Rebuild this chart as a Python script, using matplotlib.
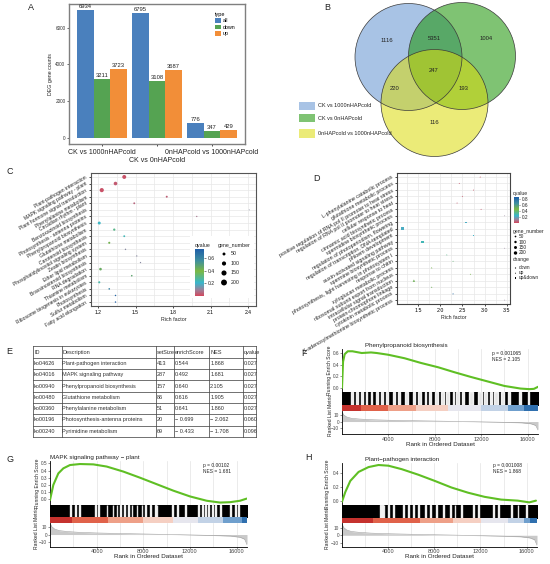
import numpy as np
import matplotlib
matplotlib.use('Agg')
import matplotlib.pyplot as plt
from matplotlib.colors import LinearSegmentedColormap
from matplotlib.patches import Circle, Rectangle
from matplotlib.lines import Line2D

plt.rcParams['font.family'] = ['Liberation Sans', 'DejaVu Sans']

# ---------------- data ----------------
# A
deg_groups = ["CK vs 1000nHAPcold", "CK vs 0nHAPcold", "0nHAPcold vs 1000nHAPcold"]
deg_types = ["all", "down", "up"]
deg_all = [6934, 6795, 776]
deg_down = [3211, 3108, 347]
deg_up = [3723, 3687, 429]
type_colors = ['#4a80bd', '#55a352', '#f28e38']

# B
venn_sets = ["CK vs 1000nHAPcold", "CK vs 0nHAPcold", "0nHAPcold vs 1000nHAPcold"]
venn_counts = [1116, 5351, 1004, 247, 220, 193, 116]
venn_colors = ['#6192d1', '#169200', '#dcdc0a']

# C
c_terms = ["Plant-pathogen interaction", "MAPK signaling pathway - plant",
           "Plant hormone signal transduction", "Phenylalanine metabolism",
           "Circadian rhythm - plant", "Benzoxazinoid biosynthesis",
           "Photosynthesis - antenna proteins", "Phenylpropanoid biosynthesis",
           "Glutathione metabolism", "Carotenoid biosynthesis",
           "Phosphatidylinositol signaling system", "Zeatin biosynthesis",
           "Ether lipid metabolism", "Brassinosteroid biosynthesis",
           "RNA degradation", "Thiamine metabolism",
           "Ribosome biogenesis in eukaryotes", "Photosynthesis",
           "Sulfur metabolism", "Fatty acid elongation"]
c_rich = [1.41, 1.34, 1.23, 1.75, 1.49, 2.41, 1.99, 1.21, 1.33, 1.41,
          1.29, 1.42, 1.51, 1.54, 1.22, 1.47, 1.21, 1.29, 1.34, 1.34]
c_q = [0.02, 0.03, 0.02, 0.04, 0.05, 0.12, 0.08, 0.22, 0.30, 0.24,
       0.42, 0.12, 0.12, 0.12, 0.45, 0.48, 0.26, 0.62, 0.72, 0.74]
c_genes = [90, 75, 100, 22, 20, 5, 10, 50, 30, 20,
           25, 12, 10, 10, 40, 15, 25, 15, 12, 12]

# D
d_terms = ["L-phenylalanine catabolic process", "glutathione metabolic process",
           "positive regulation of RNA pol II promoter to heat stress",
           "regulation of RNA pol II promoter to heat stress",
           "cellular response to heat", "cinnamic acid biosynthetic process",
           "spermidine biosynthetic process", "regulation of photoperiodism, flowering",
           "regulation of transcription, DNA-templated", "phloem development",
           "auxin-activated signaling pathway", "spermine biosynthetic process",
           "photosynthesis, light harvesting in photosystem I", "response to chitin",
           "xyloglucan metabolic process", "ribosomal subunit export from nucleus",
           "intracellular signal transduction", "protein-chromophore linkage",
           "cytokinin metabolic process", "S-adenosylmethionine biosynthetic process"]
d_rich = [2.90, 2.43, 2.75, 2.50, 2.38, 2.92, 3.45, 2.58, 1.16, 2.75,
          1.60, 3.45, 2.15, 2.29, 1.81, 2.68, 1.41, 1.81, 2.29, 3.45]
d_q = [0.02, 0.03, 0.02, 0.03, 0.03, 0.03, 0.12, 0.22, 0.22, 0.24,
       0.28, 0.12, 0.35, 0.38, 0.48, 0.45, 0.50, 0.50, 0.80, 0.12]
d_genes = [25, 25, 25, 25, 25, 25, 12, 25, 200, 25,
           100, 12, 25, 25, 30, 25, 100, 30, 30, 12]
d_change = ["up", "up", "up", "up", "up", "up", "down", "up&down", "up&down", "up&down",
            "up&down", "down", "up", "up", "up", "up", "up", "up", "up", "down"]
change_levels = ["down", "up", "up&down"]
change_markers = {"down": "o", "up": "^", "up&down": "s"}

# E
tbl_cols = ["ID", "Description", "setSize", "enrichScore", "NES", "qvalue"]
tbl_id = ["ko04626", "ko04016", "ko00940", "ko00480", "ko00360", "ko00196", "ko00240"]
tbl_desc = ["Plant-pathogen interaction", "MAPK signaling pathway",
            "Phenylpropanoid biosynthesis", "Glutathione metabolism",
            "Phenylalanine metabolism", "Photosynthesis-antenna proteins",
            "Pyrimidine metabolism"]
tbl_size = ["413", "287", "157", "86", "51", "20", "69"]
tbl_es = ["0.544", "0.492", "0.640", "0.616", "0.641", "\u2212 0.699", "\u2212 0.433"]
tbl_nes = ["1.868", "1.681", "2.105", "1.905", "1.860", "\u2212 2.062", "\u2212 1.708"]
tbl_q = ["0.027", "0.027", "0.027", "0.027", "0.027", "0.060", "0.096"]

# GSEA (F, G, H)
N_GENES = 16900
metric_rank = [0, 150, 400, 800, 1500, 2500, 4000, 6000, 8000, 10000, 12000,
               14000, 15500, 16300, 16700, 16900]
metric_val = [15, 10, 7, 5, 3.8, 2.8, 2.0, 1.3, 0.7, 0.1, -0.5, -1.2, -2.0,
              -3.5, -6, -13]
band_colors = ['#c5322e', '#e0624a', '#eea088', '#f5cfc2', '#e6e6ee',
               '#c2d2e6', '#6f9fcd', '#2f6fae']

f_title = "Phenylpropanoid biosynthesis"
f_p, f_nes = "0.001065", "2.105"
f_es_rank = [0, 90, 230, 500, 900, 1700, 2500, 3000, 4000, 5400, 6800, 8300,
             9700, 11100, 12600, 14000, 15400, 16150, 16550, 16900]
f_es_val = [0.0, 0.45, 0.58, 0.63, 0.63, 0.60, 0.61, 0.60, 0.57, 0.51, 0.43,
            0.355, 0.27, 0.19, 0.11, 0.035, -0.01, -0.02, -0.015, 0.02]
f_gaps = [(800, 150), (1230, 150), (1660, 150), (2100, 80), (2470, 140),
          (2960, 140), (3390, 140), (3820, 140), (4390, 200), (4820, 150),
          (5400, 280), (6110, 200), (6540, 230), (7120, 140), (7460, 230),
          (7980, 290), (8500, 280), (9010, 200), (9560, 140), (9870, 200),
          (10330, 170), (10910, 370), (11710, 340), (12280, 230), (12800, 140),
          (13140, 290), (13720, 280), (14350, 170), (15300, 140), (16010, 150)]
f_band = [0, 1660, 3960, 6400, 9130, 12000, 14290, 15700, 16900]

g_title = "MAPK signaling pathway \u2212 plant"
g_p, g_nes = "0.00102", "1.681"
g_es_rank = [0, 286, 715, 1144, 1716, 2574, 3718, 4862, 6292, 7722, 9152,
             10582, 12012, 13442, 14586, 15444, 16302, 16874]
g_es_val = [-0.01, 0.20, 0.36, 0.43, 0.476, 0.49, 0.485, 0.455, 0.385, 0.30,
            0.21, 0.12, 0.04, -0.02, -0.045, -0.04, -0.02, 0.01]
g_gap_starts = [1716, 2145, 2517, 3861, 4147, 4862, 5377, 5720, 6006, 6378,
                6721, 7007, 7436, 7865, 8151, 8580, 9009, 9152, 10440, 10868,
                11583, 12727, 13013, 13299, 13585, 13871, 14157, 14586, 15444,
                15873, 16159]
g_band = [0, 1860, 5005, 8008, 10582, 12727, 14872, 16445, 16900]

h_title = "Plant\u2212pathogen interaction"
h_p, h_nes = "0.001008", "1.868"
h_es_rank = [0, 287, 718, 1437, 2299, 3161, 4023, 5172, 6609, 8045, 9482,
             10919, 12355, 13792, 15229, 16235, 16810]
h_es_val = [-0.01, 0.13, 0.29, 0.42, 0.49, 0.52, 0.51, 0.46, 0.38, 0.29,
            0.195, 0.12, 0.06, 0.02, 0.005, -0.02, 0.005]
h_gap_starts = [3305, 3450, 3600, 4019, 4450, 5312, 5743, 6174, 6605, 7180,
                7611, 8186, 8760, 9335, 9766, 10341, 11347, 11778, 13071,
                13502, 14651, 15226, 15944]
h_band = [0, 2723, 6749, 9622, 12064, 14364, 15800, 16300, 16900]

# ---------------- figure ----------------
W, H = 550, 564
fig = plt.figure(figsize=(W / 100, H / 100), dpi=100)


def px_axes(l, t, r, b, **kw):
    return fig.add_axes([l / W, 1 - b / H, (r - l) / W, (b - t) / H], **kw)


def ftext(x, y, s, **kw):
    return fig.text(x / W, 1 - y / H, s, **kw)


qcmap = LinearSegmentedColormap.from_list(
    'q', [(0.0, '#d3475d'), (0.12, '#a07d96'), (0.28, '#38b6cc'),
          (0.53, '#7bb843'), (0.75, '#3f8f9e'), (1.0, '#1f5ea8')])

TXT = '#222222'

# panel letters
for lab, x, y in [("A", 31, 7), ("B", 327, 7), ("C", 10, 171), ("D", 317, 179),
                  ("E", 9, 352), ("F", 304, 353), ("G", 10, 459), ("H", 309, 458)]:
    ftext(x, y, lab, fontsize=6.5, ha='center', va='center', color=TXT)

# ---------- A ----------
axA = px_axes(69, 4, 245, 144)
xg = np.arange(len(deg_groups)) + 1
bw = 0.3
for j, (vals, col, lab) in enumerate(zip([deg_all, deg_down, deg_up], type_colors, deg_types)):
    xs = xg + (j - 1) * bw
    axA.bar(xs, vals, width=bw, color=col, label=lab, edgecolor='none')
    for x, v in zip(xs, vals):
        axA.text(x, v + 50, str(v), ha='center', va='bottom', fontsize=4.2, color=TXT)
axA.set_xlim(0.4, 3.6)
axA.set_ylim(-347, 7281)
axA.set_yticks([0, 2000, 4000, 6000])
axA.tick_params(axis='y', labelsize=3.4, length=1.5, width=0.5, pad=1, colors='#333')
axA.set_xticks([1, 3])
axA.set_xticklabels([deg_groups[0], deg_groups[2]], fontsize=5, color=TXT)
axA.set_xticks([2], minor=True)
axA.set_xticklabels([deg_groups[1]], minor=True, fontsize=5, color=TXT)
axA.tick_params(axis='x', which='major', length=1.5, width=0.5, pad=2.2)
axA.tick_params(axis='x', which='minor', length=1.5, width=0.5, pad=8)
for s in axA.spines.values():
    s.set_color('#7f7f7f')
    s.set_linewidth(1.0)
axA.set_ylabel('DEG gene counts', fontsize=3.8, labelpad=2, color=TXT)
leg = axA.legend(title='type', loc='upper left', bbox_to_anchor=(0.82, 0.96),
                 frameon=False, fontsize=3.8, title_fontsize=4, handlelength=1.0,
                 handleheight=1.0, labelspacing=0.25, borderaxespad=0,
                 handletextpad=0.4, alignment='left')

# ---------- B ----------
axB = px_axes(275, 0, 550, 160)
axB.set_xlim(275, 550)
axB.set_ylim(160, 0)
axB.axis('off')
venn_centers = [(408.5, 57), (462, 56), (434.5, 103)]
venn_r = 53.5
for c, col in zip(venn_centers, venn_colors):
    axB.add_patch(Circle(c, venn_r, facecolor=col, alpha=0.55, edgecolor='none'))
for c in venn_centers:
    axB.add_patch(Circle(c, venn_r, fill=False, edgecolor='#3a3a3a', lw=0.5))
venn_label_pos = [(387, 40), (434, 39), (486, 39), (434, 70), (395, 89), (463, 89), (434, 122)]
for (x, y), v in zip(venn_label_pos, venn_counts):
    axB.text(x, y, str(v), ha='center', va='center', fontsize=4.2, color=TXT)
for i, (name, col) in enumerate(zip(venn_sets, venn_colors)):
    y0 = [101.7, 114.0, 129.3][i]
    axB.add_patch(Rectangle((299, y0), 16, 8.3, facecolor=col, alpha=0.55, edgecolor='none'))
    axB.text(318, y0 + 4.2, name, ha='left', va='center', fontsize=4, color=TXT)

# ---------- C ----------
axC = px_axes(91, 173, 256, 306)
nC = len(c_terms)
yC = np.arange(nC)
scC = axC.scatter(c_rich, yC, s=np.array(c_genes) * 0.09, c=c_q, cmap=qcmap,
                  vmin=0, vmax=0.75, edgecolors='none', zorder=3)
axC.set_ylim(nC - 0.4, -0.6)
axC.set_xlim(1.144, 2.464)
axC.set_yticks(yC)
axC.set_yticklabels(c_terms, rotation=30, ha='right', va='center',
                    rotation_mode='anchor', fontsize=4, color=TXT)
axC.set_xticks([1.2, 1.5, 1.8, 2.1, 2.4])
axC.set_xticks([1.35, 1.65, 1.95, 2.25], minor=True)
axC.tick_params(axis='both', which='major', labelsize=3.6, length=1.5, width=0.5, pad=1.5)
axC.tick_params(axis='x', which='minor', length=0)
axC.grid(True, which='both', color='#e8e8e8', lw=0.5)
axC.set_axisbelow(True)
for s in axC.spines.values():
    s.set_color('#555555')
    s.set_linewidth(0.8)
axC.set_xlabel('Rich factor', fontsize=3.8, labelpad=1, color=TXT)
# legend (inside)
axC.add_patch(Rectangle((0.6, 0.06), 0.39, 0.47, transform=axC.transAxes,
                        facecolor='white', edgecolor='none', zorder=4))
caxC = px_axes(195, 249, 204, 296)
cbC = fig.colorbar(scC, cax=caxC)
cbC.set_ticks([0.2, 0.4, 0.6])
cbC.outline.set_visible(False)
caxC.tick_params(labelsize=3.6, length=1.5, width=0.4, pad=1, colors=TXT)
ftext(195, 245, 'qvalue', fontsize=3.8, ha='left', va='center', color=TXT)
ftext(218, 245, 'gene_number', fontsize=3.8, ha='left', va='center', color=TXT)
axLC = px_axes(218, 249, 254, 288)
axLC.set_xlim(218, 254)
axLC.set_ylim(288, 249)
axLC.axis('off')
for gval, yy in zip([50, 100, 150, 200], [254, 263.5, 273, 282.5]):
    axLC.scatter([224], [yy], s=gval * 0.09, color='black', edgecolors='none')
    axLC.text(231, yy, str(gval), fontsize=3.8, ha='left', va='center', color=TXT)

# ---------- D ----------
axD = px_axes(397, 173, 510, 304)
nD = len(d_terms)
yD = np.arange(nD)
for lev in change_levels:
    idx = [i for i, c in enumerate(d_change) if c == lev]
    scD = axD.scatter([d_rich[i] for i in idx], [yD[i] for i in idx],
                      s=np.array([d_genes[i] for i in idx]) * 0.03,
                      c=[d_q[i] for i in idx], cmap=qcmap, vmin=0, vmax=0.87,
                      marker=change_markers[lev], edgecolors='none', zorder=3)
axD.set_ylim(nD - 0.4, -0.6)
axD.set_xlim(1.03, 3.57)
axD.set_yticks(yD)
axD.set_yticklabels(d_terms, rotation=30, ha='right', va='center',
                    rotation_mode='anchor', fontsize=3.3, color=TXT)
axD.set_xticks([1.5, 2.0, 2.5, 3.0, 3.5])
axD.set_xticks([1.25, 1.75, 2.25, 2.75, 3.25], minor=True)
axD.tick_params(axis='both', which='major', labelsize=3.8, length=1.5, width=0.5, pad=1.5)
axD.tick_params(axis='x', which='minor', length=0)
axD.grid(True, which='both', color='#e8e8e8', lw=0.5)
axD.set_axisbelow(True)
for s in axD.spines.values():
    s.set_color('#444444')
    s.set_linewidth(0.8)
axD.set_xlabel('Rich factor', fontsize=3.8, labelpad=1, color=TXT)
caxD = px_axes(514, 197, 519, 223)
cbD = fig.colorbar(scD, cax=caxD)
cbD.set_ticks([0.2, 0.4, 0.6, 0.8])
cbD.outline.set_visible(False)
caxD.tick_params(labelsize=3.4, length=1, width=0.4, pad=1, colors=TXT)
ftext(513, 193, 'qvalue', fontsize=3.6, ha='left', va='center', color=TXT)
ftext(513, 231, 'gene_number', fontsize=3.6, ha='left', va='center', color=TXT)
ftext(513, 259, 'change', fontsize=3.6, ha='left', va='center', color=TXT)
axLD = px_axes(512, 233, 550, 282)
axLD.set_xlim(512, 550)
axLD.set_ylim(282, 233)
axLD.axis('off')
for gval, yy in zip([50, 100, 150, 200], [236.5, 242, 247.5, 253]):
    axLD.scatter([515.5], [yy], s=gval * 0.03, color='black', edgecolors='none')
    axLD.text(519, yy, str(gval), fontsize=3.4, ha='left', va='center', color=TXT)
for lev, yy in zip(change_levels, [268, 273, 278]):
    axLD.scatter([515.5], [yy], s=0.8, marker=change_markers[lev], color='black', edgecolors='none')
    axLD.text(519, yy, lev, fontsize=3.4, ha='left', va='center', color=TXT)

# ---------- E (table) ----------
axT = px_axes(0, 340, 275, 440)
axT.set_xlim(0, 275)
axT.set_ylim(440, 340)
axT.axis('off')
col_x = [33.3, 61.7, 156, 174, 209.3, 243.3, 256]
row_h = 11.3
row_top = 346.5
tbl_rows = [tbl_cols] + [list(r) for r in zip(tbl_id, tbl_desc, tbl_size, tbl_es, tbl_nes, tbl_q)]
n_rows = len(tbl_rows)
for i in range(n_rows + 1):
    axT.plot([col_x[0], col_x[-1]], [row_top + i * row_h] * 2, color='#4a4a4a', lw=0.55)
for x in col_x:
    axT.plot([x, x], [row_top, row_top + n_rows * row_h], color='#4a4a4a', lw=0.55)
for i, row in enumerate(tbl_rows):
    yy = row_top + (i + 0.5) * row_h
    for j, cell in enumerate(row):
        axT.text(col_x[j] + 0.8, yy, cell, ha='left', va='center', fontsize=4, color='#333333')


# ---------- GSEA panels ----------
def gsea_panel(lay, es_rank, es_val, es_ticks, gaps, band_edges, title, p, nes):
    l, r = lay['l'], lay['r']
    # running ES
    axE = px_axes(l, lay['top'], r, lay['es_bot'])
    axE.plot(es_rank, es_val, color='#5fbf24', lw=1.5, solid_capstyle='round', zorder=3)
    axE.set_xlim(0, N_GENES)
    axE.set_ylim(*lay['es_lim'])
    axE.set_yticks(es_ticks)
    axE.set_yticklabels(['%.1f' % t for t in es_ticks])
    axE.set_xticks(np.arange(2000, 16001, 2000))
    axE.tick_params(axis='x', length=0, labelbottom=False)
    axE.tick_params(axis='y', labelsize=3.4, length=1.2, width=0.4, pad=0.8, colors='#444')
    axE.grid(axis='x', color='#e3e3e3', lw=0.5)
    for k in ['top', 'right', 'bottom']:
        axE.spines[k].set_visible(False)
    axE.spines['left'].set_linewidth(0.6)
    # hits
    axH = px_axes(l, lay['es_bot'], r, lay['hit_bot'])
    axH.broken_barh([(0, N_GENES)], (0, 1), color='black')
    axH.broken_barh(gaps, (0, 1), color='white', alpha=0.9)
    axH.set_xlim(0, N_GENES)
    axH.set_ylim(0, 1)
    axH.axis('off')
    # color band
    axB2 = px_axes(l, lay['hit_bot'], r, lay['col_bot'])
    for a, b, col in zip(band_edges[:-1], band_edges[1:], band_colors):
        axB2.axvspan(a, b, color=col, lw=0)
    axB2.set_xlim(0, N_GENES)
    axB2.axis('off')
    # ranked list
    axR = px_axes(l, lay['col_bot'], r, lay['rank_bot'])
    axR.fill_between(metric_rank, metric_val, 0, color='#c9c9c9', lw=0, zorder=2)
    axR.plot(metric_rank, metric_val, color='#a0a0a0', lw=0.4, zorder=2)
    axR.set_xlim(0, N_GENES)
    axR.set_ylim(*lay['rank_lim'])
    axR.set_yticks([10, 0, -10])
    axR.set_yticklabels(['10', '0', '\u221210'])
    axR.set_xticks([4000, 8000, 12000, 16000])
    axR.set_xticks([2000, 6000, 10000, 14000], minor=True)
    axR.grid(axis='x', which='both', color='#e3e3e3', lw=0.5)
    axR.tick_params(axis='x', which='minor', length=0)
    axR.tick_params(axis='x', which='major', labelsize=4.1, length=1.2, width=0.4, pad=0.8, colors='#444')
    axR.tick_params(axis='y', labelsize=3.4, length=1.2, width=0.4, pad=0.8, colors='#444')
    for k in ['top', 'right']:
        axR.spines[k].set_visible(False)
    for k in ['left', 'bottom']:
        axR.spines[k].set_linewidth(0.6)
    axR.set_xlabel('Rank in Ordered Dataset', fontsize=4.5, labelpad=0, color=TXT)
    # texts
    ftext(lay['title_x'], lay['title_y'], title, fontsize=4.5, ha='left', va='center', color=TXT)
    ftext(lay['p_x'], lay['p_y'], 'p = ' + p, fontsize=3.5, ha='left', va='center', color=TXT)
    ftext(lay['p_x'], lay['p_y'] + 6.5, 'NES = ' + nes, fontsize=3.5, ha='left', va='center', color=TXT)
    ftext(lay['ylab_x'], (lay['top'] + lay['es_bot']) / 2, 'Running Enrich Score',
          rotation=90, fontsize=3.6, ha='center', va='center', color=TXT)
    ftext(lay['ylab_x'], (lay['es_bot'] + lay['rank_bot']) / 2 + 2, 'Ranked List Metric',
          rotation=90, fontsize=3.6, ha='center', va='center', color=TXT)


lay_F = dict(l=342, r=538, top=349, es_bot=392, hit_bot=405, col_bot=411, rank_bot=434,
             es_lim=(-0.069, 0.669), rank_lim=(-19.2, 16.2),
             title_x=365, title_y=346, p_x=492, p_y=353, ylab_x=330)
lay_G = dict(l=50, r=247, top=461, es_bot=505, hit_bot=517.3, col_bot=523.3, rank_bot=546.7,
             es_lim=(-0.079, 0.532), rank_lim=(-15.6, 14.4),
             title_x=50, title_y=457, p_x=203, p_y=465, ylab_x=37)
lay_H = dict(l=342, r=537, top=463, es_bot=505, hit_bot=517.7, col_bot=523.3, rank_bot=546.7,
             es_lim=(-0.058, 0.549), rank_lim=(-15.0, 15.7),
             title_x=365, title_y=459, p_x=493, p_y=465, ylab_x=327)

gsea_panel(lay_F, f_es_rank, f_es_val, [0.0, 0.2, 0.4, 0.6], f_gaps, f_band, f_title, f_p, f_nes)
gsea_panel(lay_G, g_es_rank, g_es_val, [0.0, 0.1, 0.2, 0.3, 0.4, 0.5],
           [(s, 70) for s in g_gap_starts], g_band, g_title, g_p, g_nes)
gsea_panel(lay_H, h_es_rank, h_es_val, [0.0, 0.2, 0.4],
           [(s, 70) for s in h_gap_starts], h_band, h_title, h_p, h_nes)

fig.savefig('out.png', dpi=100)
